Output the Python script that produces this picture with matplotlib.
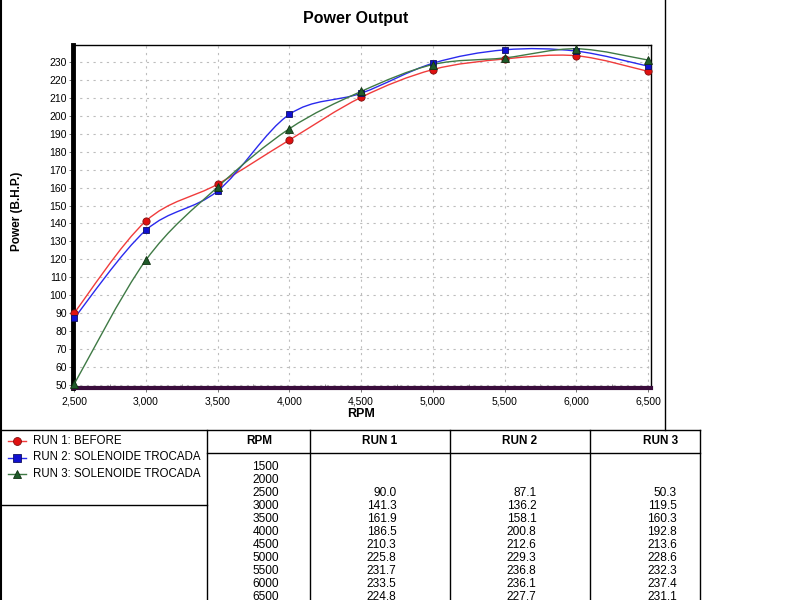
import matplotlib
matplotlib.use("Agg")
import matplotlib.pyplot as plt
from matplotlib.path import Path
from matplotlib.patches import PathPatch
from matplotlib.lines import Line2D
from matplotlib.ticker import MultipleLocator, FuncFormatter
import numpy as np

plt.rcParams['font.family'] = ['Liberation Sans', 'DejaVu Sans']

rpm = [2500, 3000, 3500, 4000, 4500, 5000, 5500, 6000, 6500]
run1 = [90.0, 141.3, 161.9, 186.5, 210.3, 225.8, 231.7, 233.5, 224.8]
run2 = [87.1, 136.2, 158.1, 200.8, 212.6, 229.3, 236.8, 236.1, 227.7]
run3 = [50.3, 119.5, 160.3, 192.8, 213.6, 228.6, 232.3, 237.4, 231.1]
table_rpm = [1500, 2000, 2500, 3000, 3500, 4000, 4500, 5000, 5500, 6000, 6500]
series_names = ["RUN 1: BEFORE", "RUN 2: SOLENOIDE TROCADA", "RUN 3: SOLENOIDE TROCADA"]
col_headers = ["RPM", "RUN 1", "RUN 2", "RUN 3"]

line_colors = ["#f03c3c", "#2a2aee", "#3f7a45"]
marker_faces = ["#e01010", "#1010d0", "#1f5a2a"]
marker_edges = ["#801010", "#101060", "#103010"]
markers = ["o", "s", "^"]
marker_sizes = [5.2, 5.0, 5.5]

W, H = 800, 600
fig = plt.figure(figsize=(8, 6), dpi=100)

def fx(px):
    return px / W

def fy(py):
    return 1 - py / H

ax = fig.add_axes([fx(73), fy(388), (651 - 73) / W, (388 - 45) / H])
ax.set_xlim(2493, 6520)
ax.set_ylim(48.3, 239.5)


def smooth_path(xs, ys):
    pts = np.column_stack([xs, ys]).astype(float)
    n = len(pts)
    verts = [pts[0]]
    codes = [Path.MOVETO]
    for i in range(n - 1):
        p0 = pts[i - 1] if i > 0 else pts[i]
        p1 = pts[i]
        p2 = pts[i + 1]
        p3 = pts[i + 2] if i + 2 < n else pts[i + 1]
        c1 = p1 + (p2 - p0) / 6.0
        c2 = p2 - (p3 - p1) / 6.0
        verts += [c1, c2, p2]
        codes += [Path.CURVE4] * 3
    return Path(verts, codes)

series = [run1, run2, run3]
for vals, lc, mf, me, mk, ms in zip(series, line_colors, marker_faces, marker_edges, markers, marker_sizes):
    patch = PathPatch(smooth_path(rpm, vals), facecolor='none', edgecolor=lc, lw=1.0, zorder=3)
    ax.add_patch(patch)
    ax.plot(rpm, vals, linestyle='none', marker=mk, ms=ms,
            mfc=mf, mec=me, mew=0.6, zorder=4, clip_on=False)

ax.xaxis.set_major_locator(MultipleLocator(500))
ax.xaxis.set_minor_locator(MultipleLocator(250))
ax.set_yticks(np.arange(50, 240, 10))
ax.xaxis.set_major_formatter(FuncFormatter(lambda v, p: f"{int(v):,}"))
ax.grid(True, which='major', color='#bdbdbd', linestyle=(0, (2, 4)), lw=0.8)
ax.tick_params(axis='both', which='major', labelsize=7.5, length=3, width=0.6, color='#606060', pad=1.5)
ax.tick_params(axis='x', which='minor', length=3, width=0.6, color='#808080', direction='in')
ax.tick_params(axis='x', which='major', pad=3)

for s in ['top', 'right']:
    ax.spines[s].set_linewidth(1.0)
    ax.spines[s].set_color('black')
ax.spines['left'].set_linewidth(3.5)
ax.spines['left'].set_color('black')
ax.spines['bottom'].set_linewidth(3.0)
ax.spines['bottom'].set_color('#3a0d3c')

fig.text(fx(356), fy(19), "Power Output", ha='center', va='center', fontsize=11.5, fontweight='bold')
fig.text(fx(361), fy(414), "RPM", ha='center', va='center', fontsize=9, fontweight='bold')
fig.text(fx(17), fy(211), "Power (B.H.P.)", ha='center', va='center', rotation=90, fontsize=8.5, fontweight='bold')

def hline(y, x0, x1, lw=1.0):
    fig.add_artist(Line2D([fx(x0), fx(x1)], [fy(y), fy(y)], color='black', lw=lw))

def vline(x, y0, y1, lw=1.0):
    fig.add_artist(Line2D([fx(x), fx(x)], [fy(y0), fy(y1)], color='black', lw=lw))

# outer frames
vline(0.8, 0, 600, lw=1.5)
vline(665, 0, 430)
hline(430, 0, 700)
hline(505, 0, 207)
vline(207, 430, 600)

# legend
leg_y = [441, 457.5, 474]
for name, yy, lc, mf, me, mk, ms in zip(series_names, leg_y, line_colors, marker_faces, marker_edges, markers, marker_sizes):
    fig.add_artist(Line2D([fx(8), fx(26)], [fy(yy), fy(yy)], color=lc, lw=1.0))
    fig.add_artist(Line2D([fx(17)], [fy(yy)], marker=mk, ms=ms + 0.5,
                          mfc=mf, mec=me, mew=0.6, linestyle='none'))
    fig.text(fx(33), fy(yy), name, ha='left', va='center', fontsize=8.3)

# table
col_x = [207, 310, 450, 590, 700]
for cx in col_x[1:]:
    vline(cx, 430, 600)
hline(453, 207, 700)
head_right = [272, 397, 537, 678]
for h, xr in zip(col_headers, head_right):
    fig.text(fx(xr), fy(441.5), h, ha='right', va='center', fontsize=8.5, fontweight='bold')

row_y0 = 467.3
row_dy = 12.94
val_right = [396.5, 536.5, 677]
for i, r in enumerate(table_rpm):
    yy = row_y0 + i * row_dy
    fig.text(fx(279), fy(yy), str(r), ha='right', va='center', fontsize=8.6)
    if r in rpm:
        j = rpm.index(r)
        for vals, xr in zip(series, val_right):
            fig.text(fx(xr), fy(yy), f"{vals[j]:.1f}", ha='right', va='center', fontsize=8.6)

fig.savefig("out.png", dpi=100)
